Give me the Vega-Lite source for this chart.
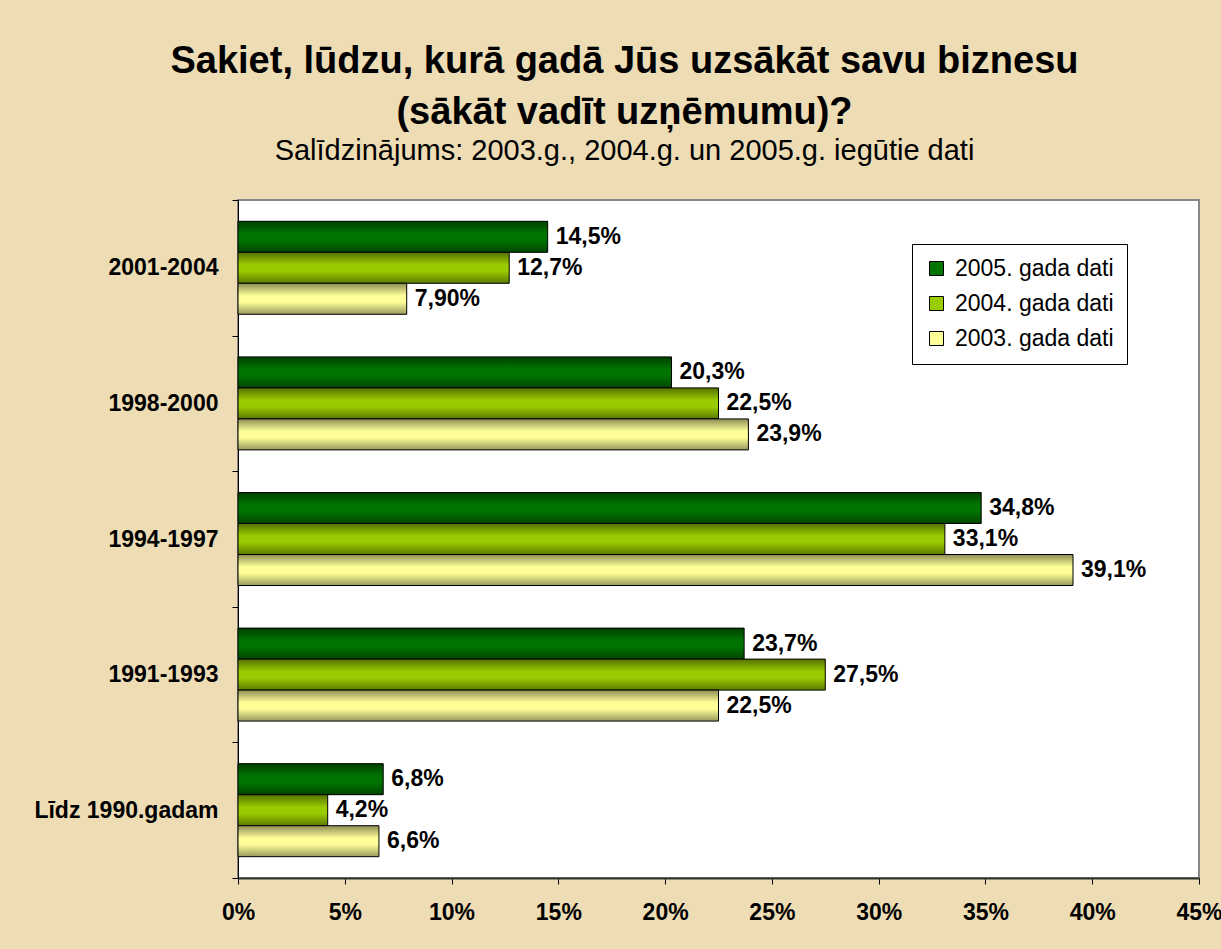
{
  "$schema": "https://vega.github.io/schema/vega-lite/v6.json",
  "width": 961,
  "height": 678,
  "autosize": {"type": "none"},
  "padding": {"left": 238, "top": 200, "right": 22, "bottom": 71},
  "background": "#eddcb4",
  "title": {
    "text": ["Sakiet, lūdzu, kurā gadā Jūs uzsākāt savu biznesu", "(sākāt vadīt uzņēmumu)?"],
    "subtitle": "Salīdzinājums: 2003.g., 2004.g. un 2005.g. iegūtie dati",
    "anchor": "middle",
    "frame": "group",
    "dx": -94,
    "offset": 23,
    "font": "Liberation Sans",
    "fontSize": 38,
    "fontWeight": "bold",
    "lineHeight": 51,
    "color": "#000000",
    "subtitleFont": "Liberation Sans",
    "subtitleFontSize": 29,
    "subtitleColor": "#000000",
    "subtitlePadding": 5
  },
  "data": {
    "values": [
      {"period": "2001-2004", "series": "2005. gada dati", "value": 0.145, "label": "14,5%"},
      {"period": "2001-2004", "series": "2004. gada dati", "value": 0.127, "label": "12,7%"},
      {"period": "2001-2004", "series": "2003. gada dati", "value": 0.079, "label": "7,90%"},
      {"period": "1998-2000", "series": "2005. gada dati", "value": 0.203, "label": "20,3%"},
      {"period": "1998-2000", "series": "2004. gada dati", "value": 0.225, "label": "22,5%"},
      {"period": "1998-2000", "series": "2003. gada dati", "value": 0.239, "label": "23,9%"},
      {"period": "1994-1997", "series": "2005. gada dati", "value": 0.348, "label": "34,8%"},
      {"period": "1994-1997", "series": "2004. gada dati", "value": 0.331, "label": "33,1%"},
      {"period": "1994-1997", "series": "2003. gada dati", "value": 0.391, "label": "39,1%"},
      {"period": "1991-1993", "series": "2005. gada dati", "value": 0.237, "label": "23,7%"},
      {"period": "1991-1993", "series": "2004. gada dati", "value": 0.275, "label": "27,5%"},
      {"period": "1991-1993", "series": "2003. gada dati", "value": 0.225, "label": "22,5%"},
      {"period": "Līdz 1990.gadam", "series": "2005. gada dati", "value": 0.068, "label": "6,8%"},
      {"period": "Līdz 1990.gadam", "series": "2004. gada dati", "value": 0.042, "label": "4,2%"},
      {"period": "Līdz 1990.gadam", "series": "2003. gada dati", "value": 0.066, "label": "6,6%"}
    ]
  },
  "encoding": {
    "y": {
      "field": "period",
      "type": "nominal",
      "sort": ["2001-2004", "1998-2000", "1994-1997", "1991-1993", "Līdz 1990.gadam"],
      "scale": {"paddingInner": 0, "paddingOuter": 0},
      "axis": {
        "title": null,
        "domainColor": "#000000",
        "domainWidth": 1,
        "tickColor": "#000000",
        "tickSize": 6,
        "tickBand": "extent",
        "labelFont": "Liberation Sans",
        "labelFontSize": 23,
        "labelFontWeight": "bold",
        "labelColor": "#000000",
        "labelPadding": 14,
        "labelLimit": 300
      }
    },
    "yOffset": {
      "field": "series",
      "type": "nominal",
      "sort": ["2005. gada dati", "2004. gada dati", "2003. gada dati"],
      "scale": {"paddingInner": 0, "paddingOuter": 0.687}
    },
    "x": {
      "field": "value",
      "type": "quantitative",
      "scale": {"domain": [0, 0.45], "nice": false, "zero": true},
      "axis": {
        "title": null,
        "format": ".0%",
        "values": [0, 0.05, 0.1, 0.15, 0.2, 0.25, 0.3, 0.35, 0.4, 0.45],
        "grid": false,
        "domainColor": "#333333",
        "domainWidth": 2,
        "tickColor": "#000000",
        "tickSize": 6,
        "labelFont": "Liberation Sans",
        "labelFontSize": 23,
        "labelFontWeight": "bold",
        "labelColor": "#000000",
        "labelPadding": 17,
        "labelFlush": false,
        "labelOverlap": false
      }
    }
  },
  "layer": [
    {
      "mark": {"type": "bar", "stroke": "#000000", "strokeWidth": 1},
      "encoding": {
        "fill": {
          "field": "series",
          "type": "nominal",
          "scale": {
            "domain": ["2005. gada dati", "2004. gada dati", "2003. gada dati"],
            "range": ["#007400", "#99cc00", "#ffff99"]
          },
          "legend": {
            "title": null,
            "orient": "none",
            "legendX": 674,
            "legendY": 44,
            "fillColor": "#ffffff",
            "strokeColor": "#000000",
            "padding": 13,
            "rowPadding": 11,
            "symbolType": "square",
            "symbolSize": 196,
            "symbolStrokeColor": "#000000",
            "symbolStrokeWidth": 1,
            "labelFont": "Liberation Sans",
            "labelFontSize": 23,
            "labelColor": "#000000",
            "labelOffset": 7,
            "labelLimit": 300
          }
        }
      }
    },
    {
      "mark": {
        "type": "bar",
        "strokeWidth": 0,
        "fill": {
          "gradient": "linear",
          "x1": 0, "y1": 0, "x2": 0, "y2": 1,
          "stops": [
            {"offset": 0, "color": "rgba(0,0,0,0.45)"},
            {"offset": 0.4, "color": "rgba(0,0,0,0)"},
            {"offset": 0.6, "color": "rgba(0,0,0,0)"},
            {"offset": 1, "color": "rgba(0,0,0,0.4)"}
          ]
        }
      },
      "encoding": {}
    },
    {
      "mark": {
        "type": "text",
        "align": "left",
        "baseline": "middle",
        "dx": 8,
        "font": "Liberation Sans",
        "fontSize": 23,
        "fontWeight": "bold",
        "color": "#000000"
      },
      "encoding": {
        "text": {"field": "label", "type": "nominal"}
      }
    }
  ],
  "config": {
    "view": {"fill": "#ffffff", "stroke": "#888888", "strokeWidth": 2}
  }
}
